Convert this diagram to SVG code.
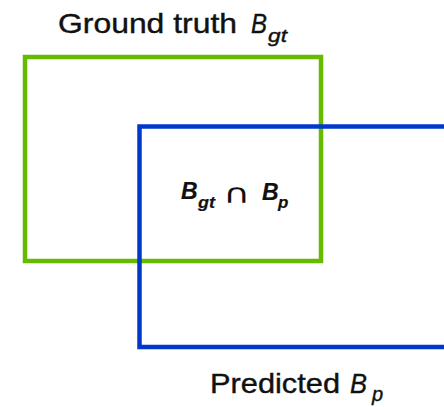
<svg xmlns="http://www.w3.org/2000/svg" width="444" height="407" viewBox="0 0 444 407">
  <style>
    .lbl { font-family: "Liberation Sans", Arial, sans-serif; fill: #111; stroke: #111; stroke-width: 0.4; }
    .it { font-style: italic; }
    .b { font-weight: bold; stroke-width: 0.2; }
    .sym { font-family: "DejaVu Sans", sans-serif; fill: #111; }
    .box { fill: none; stroke-width: 4.5; }
  </style>
  <rect width="444" height="407" fill="#ffffff"/>
  <g id="ground-truth">
    <rect class="box" x="25" y="57" width="296" height="204" stroke="#66bb00"/>
    <text class="lbl" x="58" y="33" font-size="28" textLength="179" lengthAdjust="spacingAndGlyphs">Ground truth</text>
    <text class="lbl it" x="251" y="33" font-size="28" textLength="16" lengthAdjust="spacingAndGlyphs">B</text>
    <text class="lbl it" x="268" y="42" font-size="19" textLength="19" lengthAdjust="spacingAndGlyphs">gt</text>
  </g>
  <g id="predicted">
    <rect class="box" x="139.5" y="126.5" width="330" height="220.5" stroke="#0038cc"/>
    <text class="lbl" x="210" y="393" font-size="28" textLength="130" lengthAdjust="spacingAndGlyphs">Predicted</text>
    <text class="lbl it" x="350" y="393" font-size="28" textLength="17" lengthAdjust="spacingAndGlyphs">B</text>
    <text class="lbl it" x="372" y="401" font-size="20">p</text>
  </g>
  <g id="intersection">
    <text class="lbl it b" x="181" y="199" font-size="23">B</text>
    <text class="lbl it b" x="198" y="208" font-size="16" textLength="17" lengthAdjust="spacingAndGlyphs">gt</text>
    <text class="sym" x="223" y="203" font-size="27" textLength="27" lengthAdjust="spacingAndGlyphs">∩</text>
    <text class="lbl it b" x="262" y="200" font-size="23">B</text>
    <text class="lbl it b" x="278" y="208" font-size="17">p</text>
  </g>
</svg>
